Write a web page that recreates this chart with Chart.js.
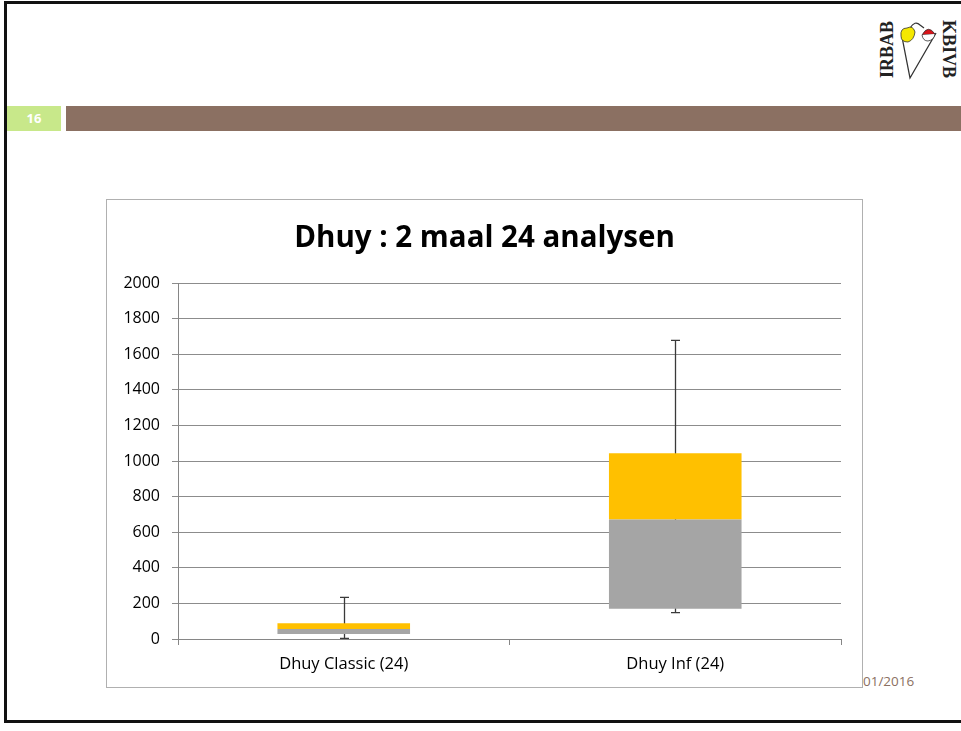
<!DOCTYPE html>
<html>
<head>
<meta charset="utf-8">
<script src="https://cdn.jsdelivr.net/npm/chart.js@4.4.1/dist/chart.umd.min.js"></script>
<style>
  html, body { margin: 0; padding: 0; width: 961px; height: 731px; overflow: hidden; background: #fff; font-family: "Open Sans", Lato, sans-serif; }
  #frame { position: absolute; left: 4px; top: 1px; width: 980px; height: 716px; border: 3px solid #111; box-sizing: content-box; }
  #bar { position: absolute; left: 66px; top: 106px; width: 900px; height: 25px; background: #8B7062; }
  #num { position: absolute; left: 7px; top: 106px; width: 54px; height: 25px; background: #C8E88A; color: #fff; font: bold 13px "Open Sans", sans-serif; text-align: center; line-height: 25px; }
  #date { position: absolute; left: 858px; top: 675px; color: #8B7062; font: 13.5px "Open Sans", sans-serif; line-height: 13px; }
  #box { position: absolute; left: 106px; top: 199px; width: 755px; height: 487px; border: 1px solid #b0b0b0; background: #fff; z-index: 2; }
  #logo { position: absolute; left: 860px; top: 12px; }
</style>
</head>
<body>
<div id="frame"></div>
<svg id="logo" width="100" height="86" viewBox="0 0 100 86">
  <text transform="translate(33,66) rotate(-90)" font-family="Liberation Serif, serif" font-weight="bold" font-size="18" fill="#222">IRBAB</text>
  <text transform="translate(83,8) rotate(90)" font-family="Liberation Serif, serif" font-weight="bold" font-size="18" fill="#222">KBIVB</text>
  <path d="M42 25 L50 66 L76 21" fill="none" stroke="#333" stroke-width="1.3"/>
  <path d="M50 16 Q55 8 60 13 L64 16" fill="none" stroke="#333" stroke-width="1.2"/>
  <path d="M41 24 Q40 16 47 16 Q53 13 55 20 Q54 28 48 30 Q41 30 41 24 Z" fill="#F5E800" stroke="#333" stroke-width="0.8"/>
  <path d="M62 23 Q68 12 75 22 Z" fill="#D8141A" stroke="#333" stroke-width="0.8"/>
  <path d="M62 23 Q63 29 68 29 Q74 28 75 22" fill="#fff" stroke="#333" stroke-width="0.8"/>
</svg>
<div id="num">16</div>
<div id="bar"></div>
<div id="date">/01/2016</div>
<div id="box"><canvas id="c" width="755" height="487"></canvas></div>
<script>
const categories = ["Dhuy Classic (24)", "Dhuy Inf (24)"];
const minValues = [3, 148];
const q1Values = [28, 170];
const medianValues = [56, 672];
const q3Values = [88, 1043];
const maxValues = [234, 1678];
const yTicks = [0, 200, 400, 600, 800, 1000, 1200, 1400, 1600, 1800, 2000];

const whiskerPlugin = {
  id: 'whiskers',
  beforeDatasetsDraw(chart) {
    const ctx = chart.ctx;
    const x = chart.scales.x, y = chart.scales.y;
    ctx.save();
    ctx.strokeStyle = '#3a3a3a';
    ctx.lineWidth = 1.3;
    categories.forEach((c, i) => {
      const px = Math.round(x.getPixelForValue(i)) + 0.5;
      const yMin = y.getPixelForValue(minValues[i]);
      const yMax = y.getPixelForValue(maxValues[i]);
      ctx.beginPath();
      ctx.moveTo(px, yMin); ctx.lineTo(px, yMax);
      ctx.moveTo(px - 4.5, yMax); ctx.lineTo(px + 4.5, yMax);
      ctx.moveTo(px - 4.5, yMin); ctx.lineTo(px + 4.5, yMin);
      ctx.stroke();
    });
    ctx.restore();
  }
};

new Chart(document.getElementById('c'), {
  type: 'bar',
  data: {
    labels: categories,
    datasets: [
      { label: 'Q1-Median', data: q1Values.map((v, i) => [v, medianValues[i]]), backgroundColor: '#A5A5A5', borderWidth: 0, barPercentage: 0.4, categoryPercentage: 1 },
      { label: 'Median-Q3', data: medianValues.map((v, i) => [v, q3Values[i]]), backgroundColor: '#FFC000', borderWidth: 0, barPercentage: 0.4, categoryPercentage: 1 }
    ]
  },
  options: {
    responsive: false,
    animation: false,
    layout: { padding: 0 },
    plugins: {
      legend: { display: false },
      tooltip: { enabled: false },
      title: {
        display: true,
        text: 'Dhuy : 2 maal 24 analysen',
        color: '#000',
        font: { family: 'Open Sans', size: 29.5, weight: 'bold', lineHeight: 1.2 },
        padding: { top: 21, bottom: 26.6 }
      }
    },
    scales: {
      x: {
        stacked: true,
        grid: { drawOnChartArea: false, drawTicks: true, tickLength: 6, color: '#868686', offset: true },
        border: { color: '#868686', width: 1 },
        ticks: { color: '#000', font: { family: 'Open Sans', size: 16.5 }, padding: 9 },
        afterFit(s) { s.height = 48; }
      },
      y: {
        min: 0, max: 2000,
        afterBuildTicks(s) { s.ticks = yTicks.map(v => ({ value: v })); },
        grid: { color: '#8c8c8c', tickLength: 6 },
        border: { color: '#868686', width: 1 },
        ticks: { color: '#000', font: { family: 'Open Sans', size: 16 }, padding: 12, callback: v => String(v) },
        afterFit(s) { s.width = 71; }
      },
      yRight: {
        position: 'right',
        min: 0, max: 2000,
        grid: { display: false, drawOnChartArea: false },
        border: { display: false },
        ticks: { display: false },
        afterFit(s) { s.width = 21; }
      }
    }
  },
  plugins: [whiskerPlugin]
});
</script>
</body>
</html>
